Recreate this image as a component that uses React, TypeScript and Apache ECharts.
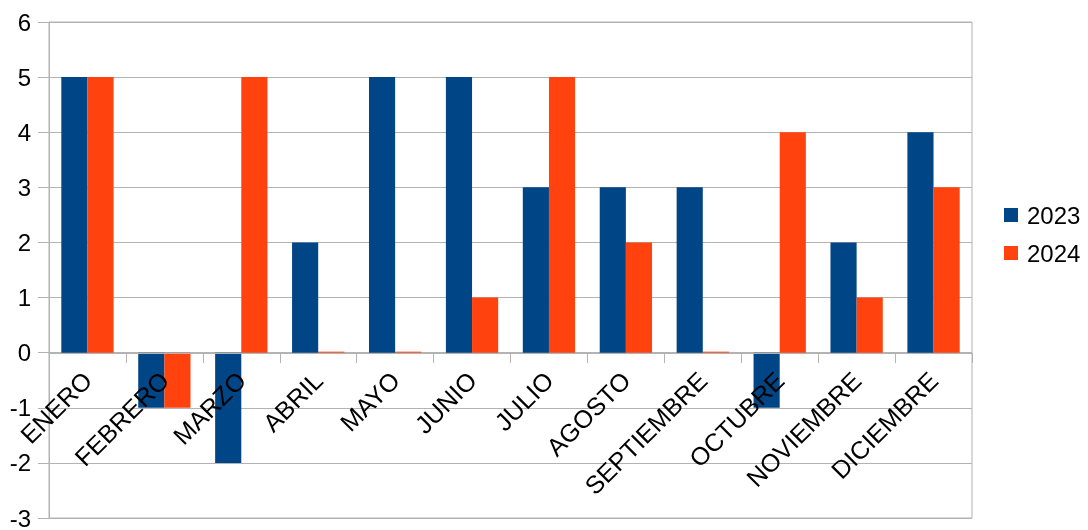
import React, { useEffect, useRef } from "react";
import * as echarts from "echarts";

const categories = ["ENERO", "FEBRERO", "MARZO", "ABRIL", "MAYO", "JUNIO", "JULIO", "AGOSTO", "SEPTIEMBRE", "OCTUBRE", "NOVIEMBRE", "DICIEMBRE"];
const values2023 = [5, -1, -2, 2, 5, 5, 3, 3, 3, -1, 2, 4];
const values2024 = [5, -1, 5, 0, 0, 1, 5, 2, 0, 4, 1, 3];
const seriesNames = ["2023", "2024"];

const FONT = "'Liberation Sans', Arial, sans-serif";

export default function App() {
  const ref = useRef<HTMLDivElement>(null);
  useEffect(() => {
    if (!ref.current) return;
    const chart = echarts.init(ref.current, null, { renderer: "svg" });
    const gridTop = 22;
    const gridBottom = 12;
    const plotH = 530 - gridTop - gridBottom;
    const yMin = -3;
    const yMax = 6;
    const zeroOffset = -Math.round((plotH * (0 - yMin)) / (yMax - yMin));
    chart.setOption({
      animation: false,
      textStyle: { fontFamily: FONT },
      grid: {
        left: 49, right: 116, top: gridTop, bottom: gridBottom,
        containLabel: false, outerBoundsMode: "none",
        show: true, borderColor: "#b3b3b3", borderWidth: 1,
      },
      legend: {
        orient: "vertical",
        left: 999,
        top: 198,
        itemWidth: 14,
        itemHeight: 14,
        itemGap: 14,
        icon: "rect",
        textStyle: { fontSize: 24, color: "#000", fontFamily: FONT, padding: [0, 0, 0, 4] },
        data: seriesNames,
      },
      xAxis: {
        type: "category",
        data: categories,
        position: "bottom",
        offset: zeroOffset,
        z: 5,
        axisLine: { onZero: false, lineStyle: { color: "#b3b3b3" } },
        axisTick: { show: true, length: 10, lineStyle: { color: "#b3b3b3" } },
        axisLabel: { interval: 0, rotate: 45, fontSize: 25, color: "#000", margin: 23, fontFamily: FONT },
        splitLine: { show: false },
      },
      yAxis: {
        type: "value",
        min: yMin,
        max: yMax,
        interval: 1,
        axisLine: { show: true, lineStyle: { color: "#b3b3b3" } },
        axisTick: { show: true, length: 11, lineStyle: { color: "#b3b3b3" } },
        axisLabel: { fontSize: 24, color: "#000", margin: 18, fontFamily: FONT },
        splitLine: { show: true, lineStyle: { color: "#b3b3b3" } },
      },
      series: [
        { name: seriesNames[0], type: "bar", data: values2023, itemStyle: { color: "#004586" }, barGap: "0%", barCategoryGap: "32%", barMinHeight: 1 },
        { name: seriesNames[1], type: "bar", data: values2024, itemStyle: { color: "#ff420e" }, barGap: "0%", barCategoryGap: "32%", barMinHeight: 1 },
      ],
    });
    return () => chart.dispose();
  }, []);
  return <div ref={ref} style={{ position: "fixed", left: 0, top: 0, width: 1088, height: 530 }} />;
}
